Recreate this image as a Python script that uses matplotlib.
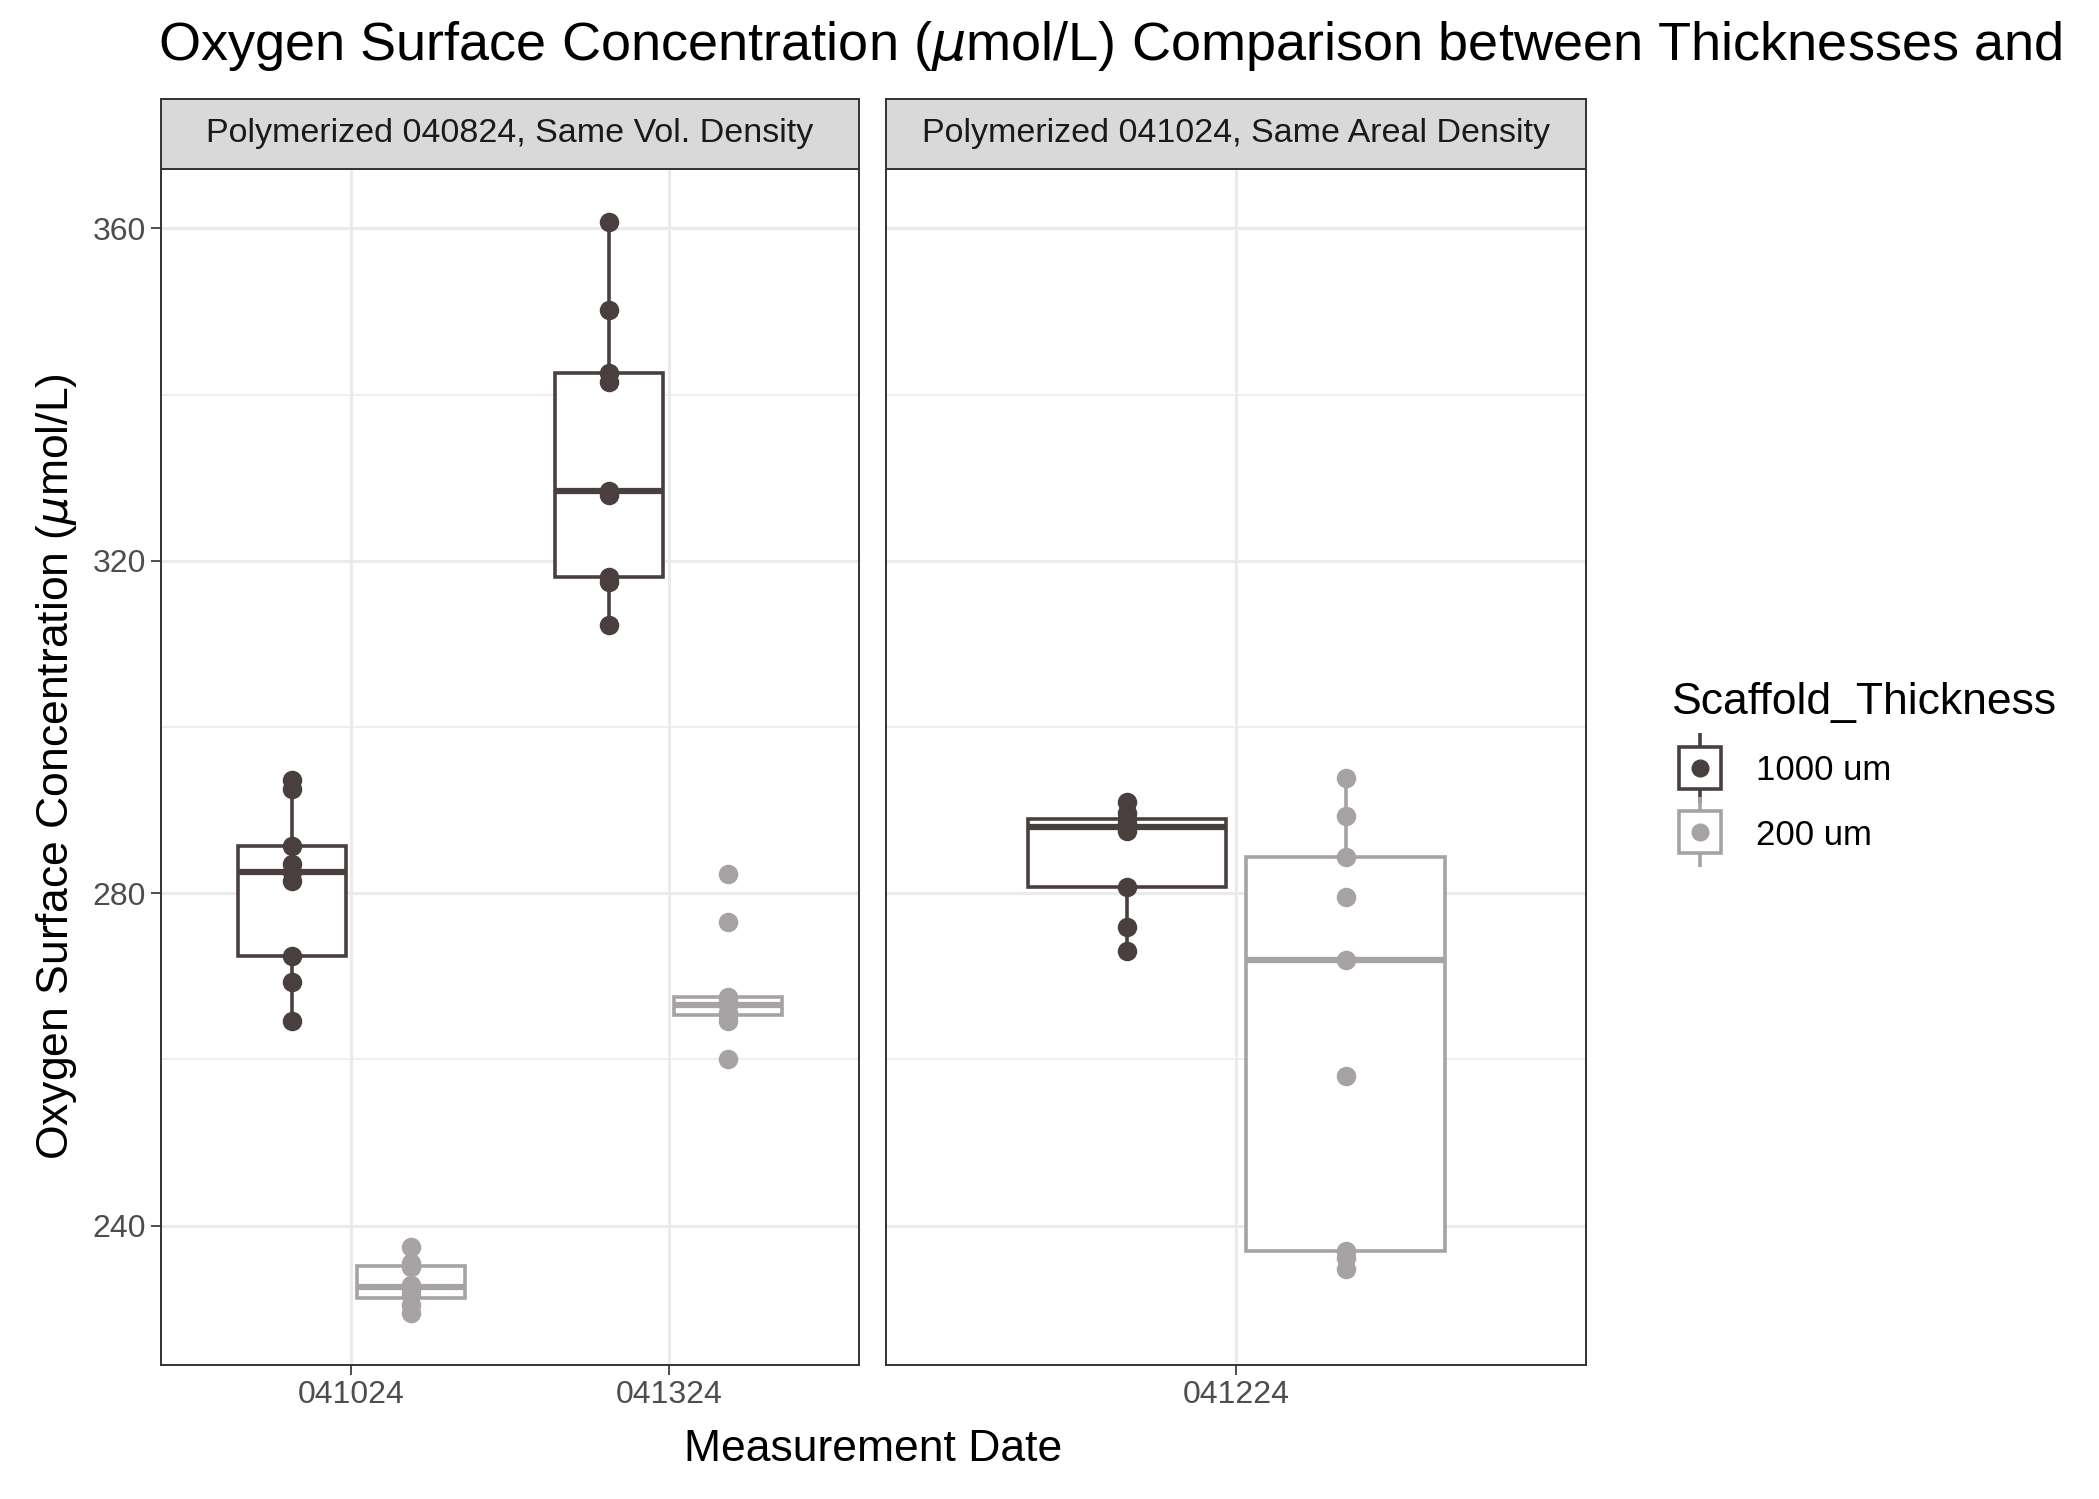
import matplotlib
matplotlib.use("Agg")
import matplotlib.pyplot as plt
from matplotlib.lines import Line2D
import numpy as np

plt.rcParams['font.family'] = ['Liberation Sans', 'DejaVu Sans']
plt.rcParams['mathtext.fontset'] = 'dejavusans'

dark = '#4a3f3f'
light = '#a7a2a3'

# left panel: Polymerized 040824
left_dates = ['041024', '041324']
left_1000 = [
    [293.6, 292.5, 285.7, 283.5, 282.5, 281.5, 272.5, 269.3, 264.6],
    [360.8, 350.2, 342.6, 341.5, 328.4, 327.9, 318.1, 317.5, 312.3],
]
left_200 = [
    [237.4, 235.5, 235.0, 232.9, 232.2, 231.6, 230.5, 229.5],
    [282.3, 276.5, 267.5, 266.9, 266.6, 265.6, 265.3, 264.6, 260.1],
]
# right panel: Polymerized 041024
right_dates = ['041224']
right_1000 = [[291.0, 289.6, 288.9, 288.3, 288.0, 287.5, 280.7, 275.9, 273.0]]
right_200 = [[293.9, 289.3, 284.4, 279.6, 272.0, 258.0, 236.9, 236.1, 234.8]]

fig = plt.figure(figsize=(20.99, 14.99), dpi=100)
W, H = 1568, 1120
def frac(x0, y0, x1, y1):
    return [x0 / W, 1 - y1 / H, (x1 - x0) / W, (y1 - y0) / H]

panels = [
    (frac(120, 126, 642, 1020), frac(120, 74, 642, 126), 'Polymerized 040824, Same Vol. Density',
     left_dates, left_1000, left_200),
    (frac(662, 126, 1185, 1020), frac(662, 74, 1185, 126), 'Polymerized 041024, Same Areal Density',
     right_dates, right_1000, right_200),
]

axes = []
for rect, srect, strip, dates, d1000, d200 in panels:
    ax = fig.add_axes(rect)
    axes.append(ax)
    pos = np.arange(1, len(dates) + 1)
    for data, off, col in [(d1000, -0.1875, dark), (d200, 0.1875, light)]:
        ax.boxplot(data, positions=pos + off, widths=0.34, showfliers=False,
                   patch_artist=True, manage_ticks=False,
                   boxprops=dict(facecolor='white', edgecolor=col, linewidth=2.6),
                   whiskerprops=dict(color=col, linewidth=2.6),
                   capprops=dict(linewidth=0),
                   medianprops=dict(color=col, linewidth=4.5))
        for p, vals in zip(pos + off, data):
            ax.scatter([p] * len(vals), vals, s=170, color=col, zorder=5)
    ax.set_xlim(0.4, len(dates) + 0.6)
    ax.set_ylim(223.2, 367.2)
    ax.set_xticks(pos)
    ax.set_xticklabels(dates)
    ax.set_yticks([240, 280, 320, 360])
    ax.set_yticks([260, 300, 340], minor=True)
    ax.grid(True, which='major', color='#ebebeb', linewidth=2.2)
    ax.grid(True, which='minor', axis='y', color='#ebebeb', linewidth=1.2)
    ax.set_axisbelow(True)
    ax.tick_params(labelsize=23, colors='#4d4d4d', length=7, width=1.4)
    ax.tick_params(which='minor', length=0)
    for s in ax.spines.values():
        s.set_color('#333333')
        s.set_linewidth(1.4)
    sax = fig.add_axes(srect)
    sax.set_facecolor('#d9d9d9')
    sax.set_xticks([])
    sax.set_yticks([])
    for s in sax.spines.values():
        s.set_color('#333333')
        s.set_linewidth(1.4)
    sax.text(0.5, 0.5, strip, ha='center', va='center', fontsize=24.5, color='#1a1a1a')

axes[1].tick_params(axis='y', which='both', left=False, labelleft=False)
axes[0].set_ylabel('Oxygen Surface Concentration ($\\mu$mol/L)', fontsize=32, labelpad=10)
fig.text(652 / W, 1 - 1083 / H, 'Measurement Date', ha='center', va='center', fontsize=32)
fig.text(118 / W, 1 - 34 / H, 'Oxygen Surface Concentration ($\\mu$mol/L) Comparison between Thicknesses and',
         ha='left', va='center', fontsize=39)

handles = []
for col in [dark, light]:
    handles.append((Line2D([], [], marker='|', ms=50, mec=col, mew=2.6, ls='none'),
                    Line2D([], [], marker='s', ms=30, mfc='white', mec=col, mew=2.6, ls='none'),
                    Line2D([], [], marker='o', ms=12, color=col, ls='none')))
leg = fig.legend(handles, ['1000 um', '200 um'], title='Scaffold_Thickness', loc='center left',
                 bbox_to_anchor=(1226 / W, 1 - 573 / H), frameon=False, fontsize=25,
                 title_fontsize=32, handlelength=1.6, labelspacing=0.9)
leg._legend_box.align = 'left'

fig.savefig('out.png', dpi=100)
